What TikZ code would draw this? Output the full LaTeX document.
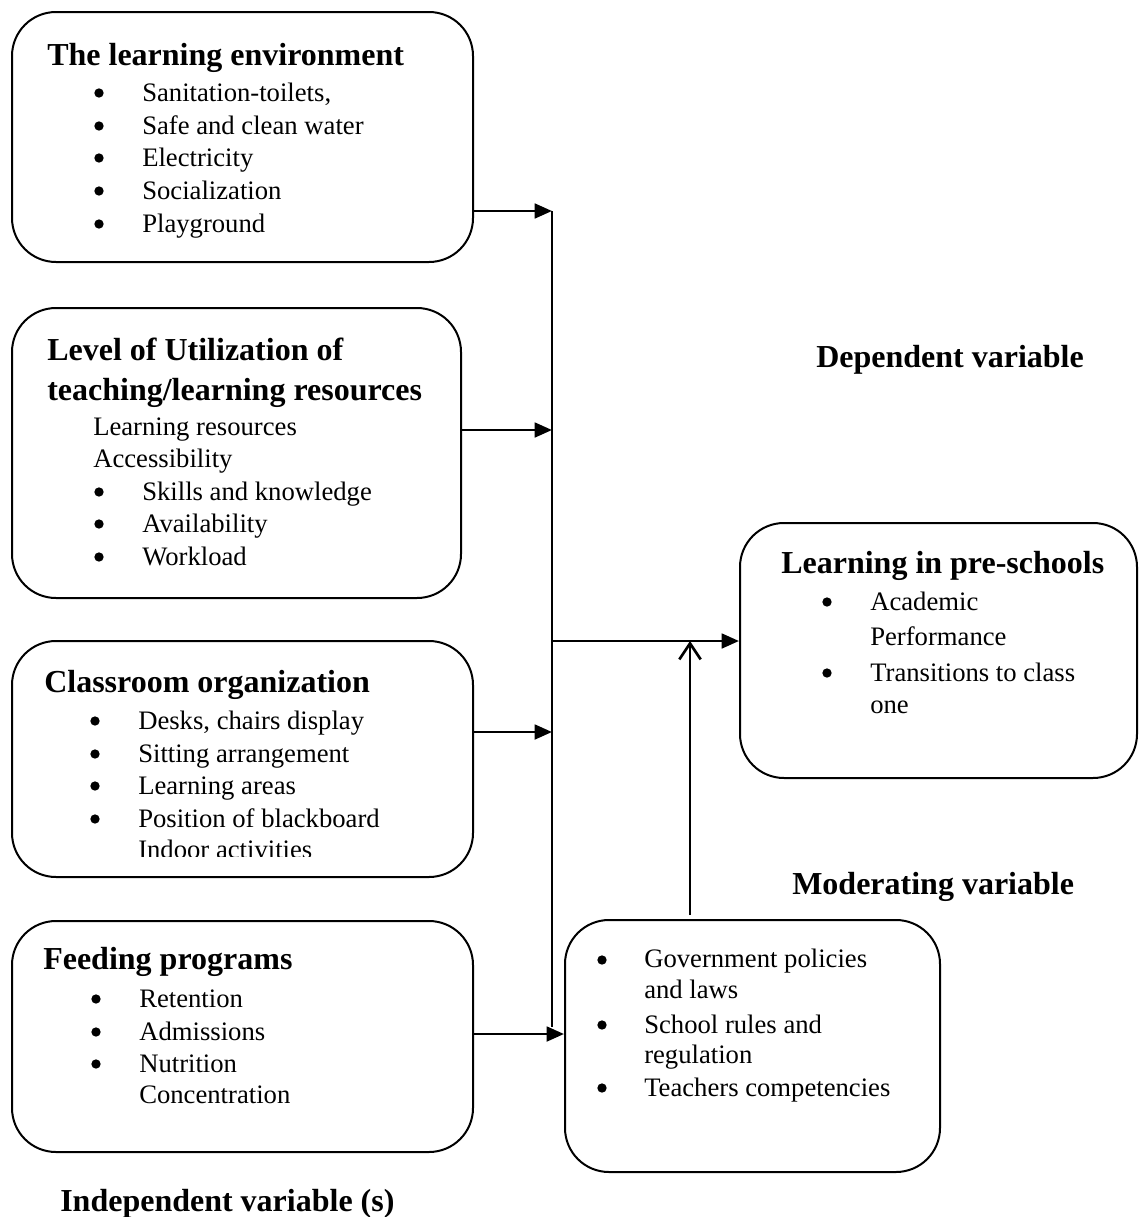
\documentclass[tikz,border=0pt]{standalone}
\usepackage{fontspec}
\setmainfont{Liberation Serif}
\usetikzlibrary{arrows.meta,fit}
\tikzset{
  box/.style={draw, line width=1.5pt, rounded corners=33pt, inner sep=0pt},
  body/.style={anchor=base west, inner sep=0pt, font=\fontsize{20}{24}\selectfont},
  head/.style={anchor=base west, inner sep=0pt, font=\bfseries\fontsize{24}{28}\selectfont},
  arr/.style={line width=2.1pt, -{Triangle[length=13pt,width=11pt]}},
  openarr/.style={line width=2pt, -{Straight Barb[length=12pt,width=16pt,line width=2pt]}},
  vline/.style={line width=1.6pt},
}
\newcommand{\bul}[2]{\fill (#1,#2) circle[radius=3.5pt];}
\begin{document}
\begin{tikzpicture}[x=0.75pt,y=-0.75pt]
\useasboundingbox (0,0) rectangle (1139,1217);
% boxes
\node[box, fit={(12,12) (473,262)}] (b1) {};
\node[box, fit={(12,308) (461,598)}] (b2) {};
\node[box, fit={(12,641) (473,877)}] (b3) {};
\node[box, fit={(12,921) (473,1152)}] (b4) {};
\node[box, fit={(740,523) (1137,778)}] (b5) {};
\node[box, fit={(565,920) (940,1172)}] (b6) {};

% box 1
\node[head] (h1) at (47,65) {The learning environment};
\foreach \t/\y [count=\i] in {{Sanitation-toilets,}/101, {Safe and clean water}/134, {Electricity}/166, {Socialization}/199, {Playground}/232}{
  \bul{99}{\y-8}
  \node[body] (t1\i) at (142,\y) {\t};
}
% box 2
\node[head] (h2a) at (47,360) {Level of Utilization of};
\node[head] (h2b) at (47,400) {teaching/learning resources};
\node[body] (t2a) at (93,435) {Learning resources};
\node[body] (t2b) at (93,467) {Accessibility};
\foreach \t/\y [count=\i] in {{Skills and knowledge}/500, {Availability}/532, {Workload}/565}{
  \bul{99}{\y-8}
  \node[body] (t2\i) at (142,\y) {\t};
}
% box 3
\node[head] (h3) at (44,692) {Classroom organization};
\foreach \t/\y [count=\i] in {{Desks, chairs display}/729, {Sitting arrangement}/762, {Learning areas}/794, {Position of blackboard}/827}{
  \bul{95}{\y-8}
  \node[body] (t3\i) at (138,\y) {\t};
}
\begin{scope}
\clip (0,830) rectangle (480,856);
\node[body] (t3e) at (138,858) {Indoor activities};
\end{scope}
% box 4
\node[head] (h4) at (43,969) {Feeding programs};
\foreach \t/\y [count=\i] in {{Retention}/1007, {Admissions}/1040, {Nutrition}/1072}{
  \bul{96}{\y-8}
  \node[body] (t4\i) at (139,\y) {\t};
}
\node[body] (t4e) at (139,1103) {Concentration};
% box 5
\node[head] (h5) at (781,573) {Learning in pre-schools};
\bul{827}{602}
\node[body] (t5a) at (870,610) {Academic};
\node[body] (t5b) at (870,645) {Performance};
\bul{827}{673}
\node[body] (t5c) at (870,681) {Transitions to class};
\node[body] (t5d) at (870,713) {one};
% box 6
\bul{602}{960}
\node[body] (t6a) at (644,967) {Government policies};
\node[body] (t6b) at (644,998) {and laws};
\bul{602}{1025}
\node[body] (t6c) at (644,1033) {School rules and};
\node[body] (t6d) at (644,1063) {regulation};
\bul{602}{1088}
\node[body] (t6e) at (644,1096) {Teachers competencies};

% labels
\node[head] (ldep) at (816,367) {Dependent variable};
\node[head] (lmod) at (792,894) {Moderating variable};
\node[head] (lind) at (60,1211) {Independent variable (s)};

% connectors
\coordinate (vtop) at (552,211);
\coordinate (vbot) at (552,1027);
\coordinate (j2) at (552,430);
\coordinate (j3) at (552,732);
\coordinate (jm) at (552,641);
\coordinate (j4) at (552,1034);
\coordinate (mbot) at (690,915);
\coordinate (mtop) at (690,641);
\draw[vline] (vtop) -- (vbot);
\draw[arr] (b1.east |- vtop) -- (vtop);
\draw[arr] (b2.east |- j2) -- (j2);
\draw[arr] (b3.east |- j3) -- (j3);
\draw[arr] (b4.east |- j4) -- (b6.west |- j4);
\draw[arr] (jm) -- (b5.west |- jm);
\draw[openarr] (mbot) -- (mtop);
\end{tikzpicture}
\end{document}
